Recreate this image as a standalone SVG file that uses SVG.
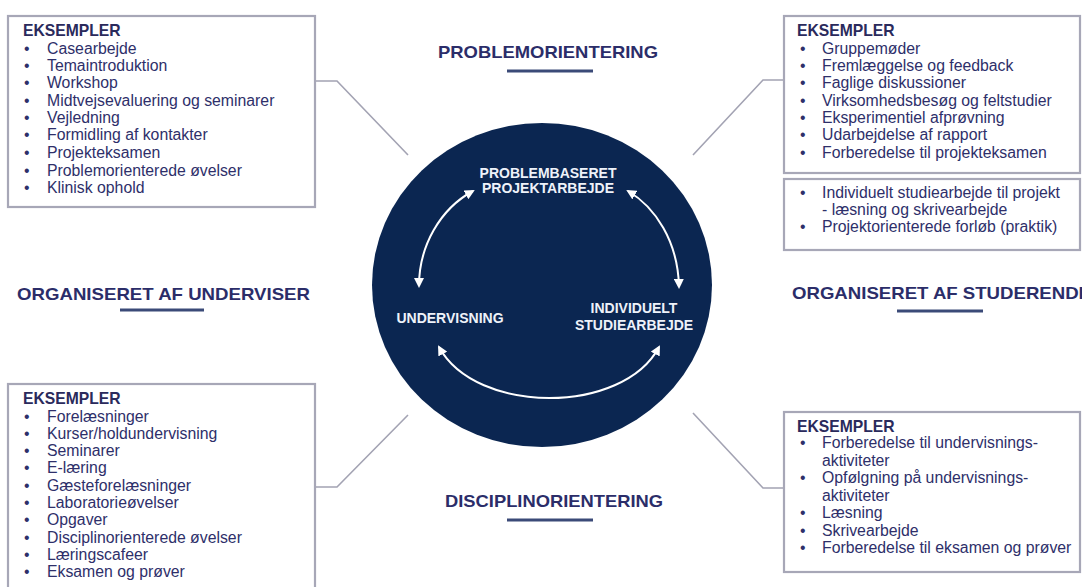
<svg xmlns="http://www.w3.org/2000/svg" width="1082" height="587" viewBox="0 0 1082 587">
<defs>
<style>
.box{fill:#fff;stroke:#a7a7b7;stroke-width:2.2}
.conn{fill:none;stroke:#a3a3b3;stroke-width:1.6}
.hd{font-family:"Liberation Sans",Arial,sans-serif;font-weight:bold;font-size:17px;fill:#2b2d69}
.ul{stroke:#3b4a78;stroke-width:3}
.ek{font-family:"Liberation Sans",Arial,sans-serif;font-weight:bold;font-size:15.7px;fill:#2a2a5c}
.it{font-family:"Liberation Sans",Arial,sans-serif;font-size:15.8px;fill:#2e2f6a}
.ct{font-family:"Liberation Sans",Arial,sans-serif;font-weight:bold;font-size:14px;fill:#eef2fa}
.arr{fill:none;stroke:#ffffff;stroke-width:2}
</style>
<marker id="ah" viewBox="0 0 10 10" refX="8" refY="5" markerWidth="5" markerHeight="5" orient="auto-start-reverse" markerUnits="strokeWidth">
<path d="M0,0 L10,5 L0,10 z" fill="#ffffff"/>
</marker>
</defs>
<rect width="1082" height="587" fill="#ffffff"/>

<g id="connectors">
<polyline class="conn" points="316,81 337,81 408,155"/>
<polyline class="conn" points="784,80 763,80 693,155"/>
<polyline class="conn" points="316,487 337,487 408,415"/>
<polyline class="conn" points="784,488 763,488 693,413"/>
</g>

<g id="heading-top">
<text class="hd" x="438" y="58" textLength="220" lengthAdjust="spacingAndGlyphs">PROBLEMORIENTERING</text>
<line class="ul" x1="507" y1="71" x2="593" y2="71"/>
</g>
<g id="heading-bottom">
<text class="hd" x="445" y="507" textLength="218" lengthAdjust="spacingAndGlyphs">DISCIPLINORIENTERING</text>
<line class="ul" x1="507" y1="520" x2="593" y2="520"/>
</g>
<g id="heading-left">
<text class="hd" x="17" y="300" textLength="293" lengthAdjust="spacingAndGlyphs">ORGANISERET AF UNDERVISER</text>
<line class="ul" x1="120" y1="310" x2="204" y2="310"/>
</g>
<g id="heading-right">
<text class="hd" x="792" y="299" textLength="299" lengthAdjust="spacingAndGlyphs">ORGANISERET AF STUDERENDE</text>
<line class="ul" x1="897" y1="311" x2="983" y2="311"/>
</g>

<g id="circle">
<ellipse cx="542" cy="285" rx="170" ry="162" fill="#0b2651"/>
<text class="ct" x="548" y="178" text-anchor="middle">PROBLEMBASERET</text>
<text class="ct" x="548" y="193" text-anchor="middle">PROJEKTARBEJDE</text>
<text class="ct" x="450" y="323" text-anchor="middle">UNDERVISNING</text>
<text class="ct" x="634" y="313" text-anchor="middle">INDIVIDUELT</text>
<text class="ct" x="634" y="330" text-anchor="middle">STUDIEARBEJDE</text>
<path class="arr" d="M419,286 C419,246 440,209 473,191" marker-start="url(#ah)" marker-end="url(#ah)"/>
<path class="arr" d="M628,191 C655,207 678,241 679,287" marker-start="url(#ah)" marker-end="url(#ah)"/>
<path class="arr" d="M439,347 C476,415 623,415 659,347" marker-start="url(#ah)" marker-end="url(#ah)"/>
</g>

<g id="box-top-left">
<rect class="box" x="8" y="16" width="307" height="191"/>
<text class="ek" x="23" y="36">EKSEMPLER</text>
<g class="it">
<text x="24" y="54">•</text><text x="47" y="54">Casearbejde</text>
<text x="24" y="71">•</text><text x="47" y="71">Temaintroduktion</text>
<text x="24" y="88">•</text><text x="47" y="88">Workshop</text>
<text x="24" y="106">•</text><text x="47" y="106">Midtvejsevaluering og seminarer</text>
<text x="24" y="123">•</text><text x="47" y="123">Vejledning</text>
<text x="24" y="140">•</text><text x="47" y="140">Formidling af kontakter</text>
<text x="24" y="158">•</text><text x="47" y="158">Projekteksamen</text>
<text x="24" y="176">•</text><text x="47" y="176">Problemorienterede øvelser</text>
<text x="24" y="193">•</text><text x="47" y="193">Klinisk ophold</text>
</g>
</g>

<g id="box-top-right">
<rect class="box" x="784" y="16" width="296" height="157"/>
<text class="ek" x="797" y="36">EKSEMPLER</text>
<g class="it">
<text x="800" y="54">•</text><text x="822" y="54">Gruppemøder</text>
<text x="800" y="71">•</text><text x="822" y="71">Fremlæggelse og feedback</text>
<text x="800" y="88">•</text><text x="822" y="88">Faglige diskussioner</text>
<text x="800" y="106">•</text><text x="822" y="106">Virksomhedsbesøg og feltstudier</text>
<text x="800" y="123">•</text><text x="822" y="123">Eksperimentiel afprøvning</text>
<text x="800" y="140">•</text><text x="822" y="140">Udarbejdelse af rapport</text>
<text x="800" y="158">•</text><text x="822" y="158">Forberedelse til projekteksamen</text>
</g>
</g>

<g id="box-right-middle">
<rect class="box" x="784" y="179" width="296" height="71"/>
<g class="it">
<text x="800" y="198">•</text><text x="822" y="198">Individuelt studiearbejde til projekt</text>
<text x="822" y="215">- læsning og skrivearbejde</text>
<text x="800" y="232">•</text><text x="822" y="232">Projektorienterede forløb (praktik)</text>
</g>
</g>

<g id="box-bottom-left">
<rect class="box" x="8" y="384" width="307" height="220"/>
<text class="ek" x="23" y="404">EKSEMPLER</text>
<g class="it">
<text x="24" y="422">•</text><text x="47" y="422">Forelæsninger</text>
<text x="24" y="439">•</text><text x="47" y="439">Kurser/holdundervisning</text>
<text x="24" y="456">•</text><text x="47" y="456">Seminarer</text>
<text x="24" y="473">•</text><text x="47" y="473">E-læring</text>
<text x="24" y="491">•</text><text x="47" y="491">Gæsteforelæsninger</text>
<text x="24" y="508">•</text><text x="47" y="508">Laboratorieøvelser</text>
<text x="24" y="525">•</text><text x="47" y="525">Opgaver</text>
<text x="24" y="543">•</text><text x="47" y="543">Disciplinorienterede øvelser</text>
<text x="24" y="560">•</text><text x="47" y="560">Læringscafeer</text>
<text x="24" y="577">•</text><text x="47" y="577">Eksamen og prøver</text>
</g>
</g>

<g id="box-bottom-right">
<rect class="box" x="784" y="412" width="296" height="160"/>
<text class="ek" x="797" y="432">EKSEMPLER</text>
<g class="it">
<text x="800" y="448">•</text><text x="822" y="448">Forberedelse til undervisnings-</text>
<text x="822" y="466">aktiviteter</text>
<text x="800" y="483">•</text><text x="822" y="483">Opfølgning på undervisnings-</text>
<text x="822" y="501">aktiviteter</text>
<text x="800" y="518">•</text><text x="822" y="518">Læsning</text>
<text x="800" y="536">•</text><text x="822" y="536">Skrivearbejde</text>
<text x="800" y="553">•</text><text x="822" y="553">Forberedelse til eksamen og prøver</text>
</g>
</g>
</svg>
